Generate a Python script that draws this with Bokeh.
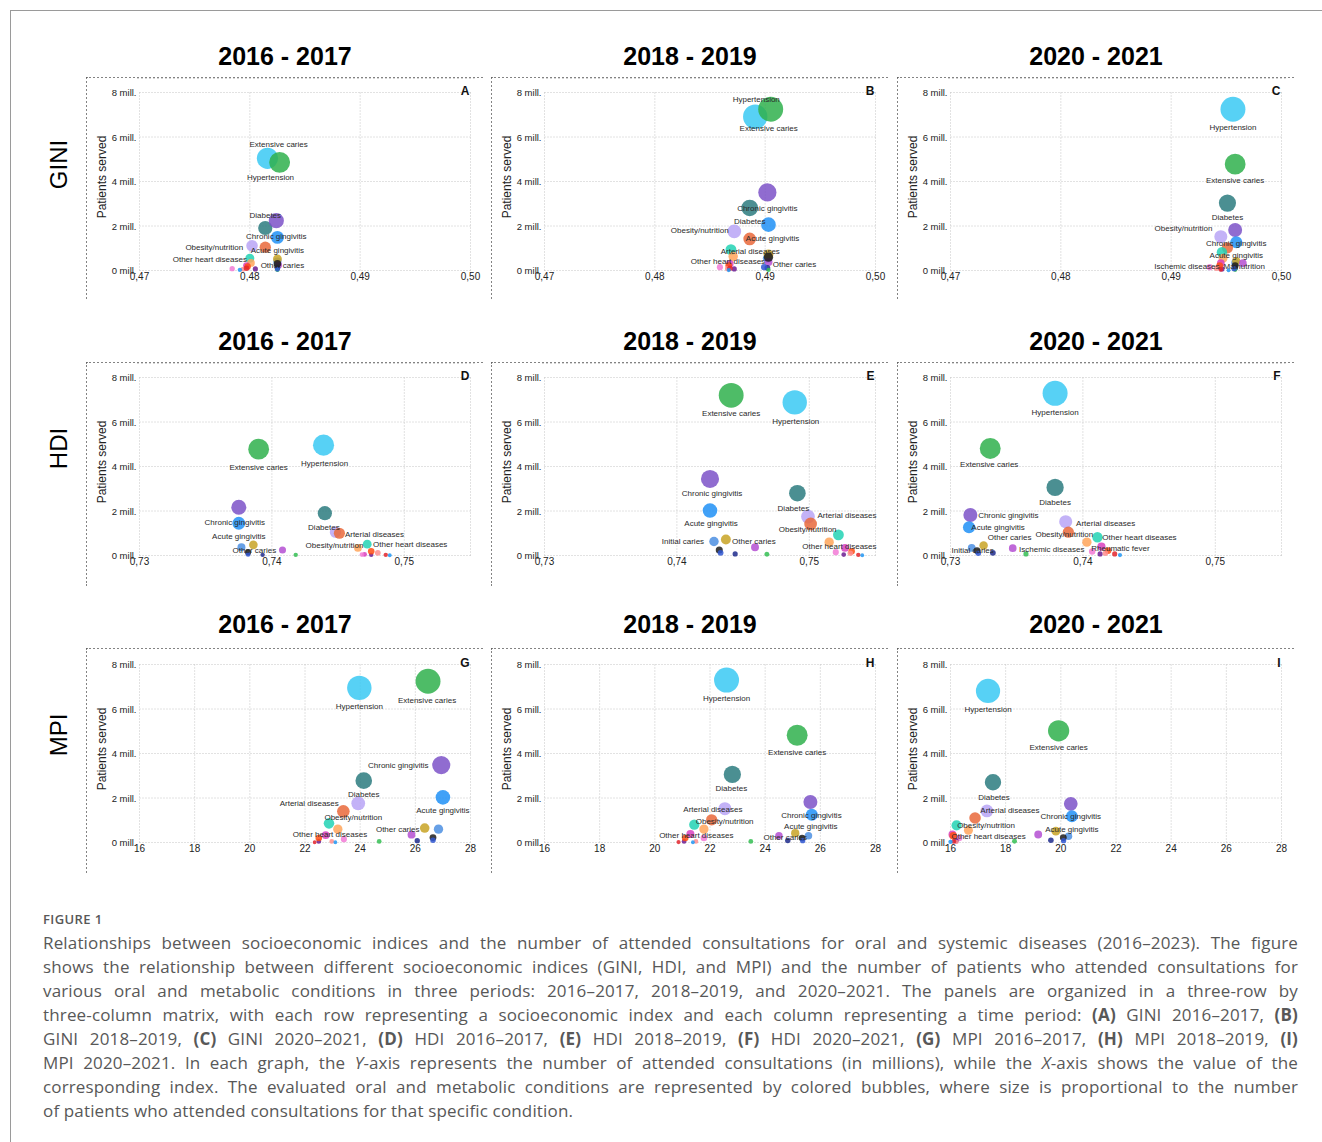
import math
from bokeh.plotting import figure
from bokeh.models import (Range1d, FixedTicker, CustomJSTickFormatter, Label, Div,
                          Spacer, ColumnDataSource)
from bokeh.layouts import row, column
from bokeh.embed import file_html
from bokeh.resources import INLINE
from bokeh.core.properties import value

# ---------------------------------------------------------------- data
CATEGORIES = [
    "Hypertension", "Extensive caries", "Diabetes", "Chronic gingivitis", "Acute gingivitis",
    "Arterial diseases", "Obesity/nutrition", "Other heart diseases", "Unlabelled condition 1",
    "Initial caries", "Other caries", "Ischemic diseases", "Rheumatic fever",
    "Unlabelled condition 2", "Unlabelled condition 3", "Unlabelled condition 4",
    "Unlabelled condition 5", "Unlabelled condition 6", "Unlabelled condition 7",
    "Unlabelled condition 8", "Unlabelled condition 9", "Malnutrition", "Unlabelled condition 10",
]
COLORS = ["#3AC9F3", "#2FB04C", "#2C7B7F", "#7C52C8", "#2090F6", "#B9A4F6", "#E9693B",
          "#22D2B4", "#FFA45B", "#4C8FE2", "#C8A325", "#B44FD2", "#D93FBE", "#F27AD6",
          "#6C1C92", "#FF4D12", "#FF8E8E", "#E3242B", "#1D2A8C", "#34BE52", "#2196F3",
          "#1C1C1C", "#3057D2"]

PERIODS = ["2016 - 2017", "2018 - 2019", "2020 - 2021"]
INDICES = ["GINI", "HDI", "MPI"]
PANEL_LETTERS = ["A", "B", "C", "D", "E", "F", "G", "H", "I"]

GINI_TICKS = [0.47, 0.48, 0.49, 0.50]
HDI_TICKS = [0.73, 0.74, 0.75]
HDI_RANGE = [0.73, 0.755]
MPI_TICKS = [16, 18, 20, 22, 24, 26, 28]
Y_TICKS = [0, 2, 4, 6, 8]          # millions of patients

# x = index value, y = patients served (millions); order follows CATEGORIES
GINI_2016_X = [0.4816, 0.4827, 0.4814, 0.4824, 0.4825, 0.4802, 0.4814, 0.4800, 0.4801, 0.4825, 0.4825, 0.4826, 0.4797, 0.4784, 0.4805, 0.4798, 0.4794, 0.4797, 0.4825, 0.4825, 0.4791, 0.4825, 0.4825]
GINI_2016_Y = [5.04, 4.86, 1.91, 2.24, 1.49, 1.11, 1.05, 0.55, 0.34, 0.40, 0.52, 0.25, 0.22, 0.08, 0.07, 0.18, 0.06, 0.10, 0.12, 0.03, 0.03, 0.30, 0.06]
GINI_2018_X = [0.4891, 0.4905, 0.4886, 0.4902, 0.4903, 0.4872, 0.4886, 0.4869, 0.4871, 0.4902, 0.4903, 0.4903, 0.4868, 0.4859, 0.4872, 0.4867, 0.4866, 0.4868, 0.4902, 0.4903, 0.4867, 0.4903, 0.4899]
GINI_2018_Y = [6.91, 7.25, 2.81, 3.51, 2.06, 1.76, 1.42, 0.94, 0.63, 0.55, 0.72, 0.38, 0.30, 0.15, 0.07, 0.22, 0.08, 0.10, 0.12, 0.03, 0.02, 0.60, 0.15]
GINI_2020_X = [0.4956, 0.4958, 0.4951, 0.4958, 0.4959, 0.4945, 0.4951, 0.4946, 0.4947, 0.4958, 0.4959, 0.4965, 0.4945, 0.4935, 0.4946, 0.4944, 0.4941, 0.4945, 0.4958, 0.4958, 0.4952, 0.4958, 0.4957]
GINI_2020_Y = [7.25, 4.78, 3.03, 1.82, 1.27, 1.52, 1.02, 0.82, 0.55, 0.35, 0.42, 0.33, 0.33, 0.15, 0.07, 0.22, 0.10, 0.05, 0.12, 0.04, 0.01, 0.22, 0.08]

HDI_2016_X = [0.7439, 0.7390, 0.7440, 0.7375, 0.7375, 0.7448, 0.7451, 0.7472, 0.7465, 0.7377, 0.7386, 0.7408, 0.7470, 0.7468, 0.7475, 0.7475, 0.7480, 0.7486, 0.7393, 0.7418, 0.7489, 0.7382, 0.7382]
HDI_2016_Y = [4.96, 4.78, 1.90, 2.17, 1.45, 1.05, 1.00, 0.51, 0.34, 0.37, 0.48, 0.25, 0.05, 0.04, 0.03, 0.19, 0.12, 0.03, 0.03, 0.03, 0.01, 0.15, 0.05]
HDI_2018_X = [0.7489, 0.7441, 0.7491, 0.7425, 0.7425, 0.7499, 0.7501, 0.7522, 0.7515, 0.7428, 0.7437, 0.7459, 0.7527, 0.7520, 0.7526, 0.7532, 0.7531, 0.7537, 0.7444, 0.7468, 0.7540, 0.7432, 0.7433]
HDI_2018_Y = [6.88, 7.20, 2.80, 3.44, 2.02, 1.75, 1.42, 0.93, 0.60, 0.63, 0.72, 0.37, 0.34, 0.15, 0.04, 0.19, 0.10, 0.03, 0.07, 0.06, 0.01, 0.25, 0.12]
HDI_2020_X = [0.7379, 0.7330, 0.7379, 0.7315, 0.7314, 0.7387, 0.7389, 0.7411, 0.7403, 0.7316, 0.7325, 0.7347, 0.7414, 0.7407, 0.7413, 0.7419, 0.7417, 0.7424, 0.7332, 0.7357, 0.7428, 0.7320, 0.7321]
HDI_2020_Y = [7.29, 4.81, 3.06, 1.82, 1.27, 1.52, 1.05, 0.82, 0.60, 0.34, 0.45, 0.33, 0.40, 0.18, 0.07, 0.22, 0.10, 0.07, 0.12, 0.07, 0.02, 0.22, 0.10]

MPI_2016_X = [23.97, 26.46, 24.13, 26.94, 27.00, 23.93, 23.39, 22.87, 23.19, 26.84, 26.34, 25.86, 22.75, 23.41, 22.50, 22.50, 22.97, 22.35, 26.07, 24.69, 23.10, 26.64, 26.64]
MPI_2016_Y = [6.95, 7.25, 2.78, 3.48, 2.03, 1.76, 1.40, 0.86, 0.60, 0.60, 0.65, 0.35, 0.33, 0.15, 0.05, 0.20, 0.05, 0.01, 0.08, 0.05, 0.01, 0.22, 0.10]
MPI_2018_X = [22.60, 25.16, 22.81, 25.64, 25.69, 22.54, 22.06, 21.43, 21.78, 25.57, 25.09, 24.50, 21.29, 21.78, 21.06, 21.10, 21.49, 20.86, 24.82, 23.48, 21.38, 25.34, 25.36]
MPI_2018_Y = [7.30, 4.82, 3.06, 1.82, 1.25, 1.52, 1.02, 0.80, 0.60, 0.30, 0.42, 0.30, 0.38, 0.20, 0.05, 0.20, 0.05, 0.02, 0.09, 0.05, 0.01, 0.20, 0.08]
MPI_2020_X = [17.36, 19.92, 17.54, 20.36, 20.40, 17.32, 16.89, 16.22, 16.65, 20.28, 19.82, 19.18, 16.07, 16.31, 16.20, 16.10, 16.22, 16.12, 19.64, 18.32, 16.00, 20.09, 20.10]
MPI_2020_Y = [6.81, 5.02, 2.71, 1.74, 1.18, 1.42, 1.10, 0.77, 0.55, 0.28, 0.51, 0.36, 0.36, 0.20, 0.08, 0.30, 0.03, 0.05, 0.10, 0.06, 0.03, 0.22, 0.08]

PANEL_DATA = [
    [(GINI_2016_X, GINI_2016_Y), (GINI_2018_X, GINI_2018_Y), (GINI_2020_X, GINI_2020_Y)],
    [(HDI_2016_X, HDI_2016_Y), (HDI_2018_X, HDI_2018_Y), (HDI_2020_X, HDI_2020_Y)],
    [(MPI_2016_X, MPI_2016_Y), (MPI_2018_X, MPI_2018_Y), (MPI_2020_X, MPI_2020_Y)],
]

# --------------------------------------------------------- label layout
# (category labelled, pixel offset right, pixel offset down) relative to its bubble
LABEL_LAYOUT = {
    "A": [("Extensive caries", -1, -18), ("Hypertension", 3, 19), ("Diabetes", 0, -13),
          ("Chronic gingivitis", 0, 16), ("Acute gingivitis", 0, 13), ("Obesity/nutrition", -51, 0),
          ("Other heart diseases", -40, 1), ("Other caries", 5, 7)],
    "B": [("Hypertension", 1, -17), ("Extensive caries", -2, 19), ("Chronic gingivitis", 0, 16),
          ("Diabetes", 0, 14), ("Obesity/nutrition", -50, -8), ("Acute gingivitis", 4, 14),
          ("Arterial diseases", 16, 20), ("Other heart diseases", -3, 12), ("Other caries", 26, 10)],
    "C": [("Hypertension", 0, 18), ("Extensive caries", 0, 16), ("Diabetes", 0, 14),
          ("Obesity/nutrition", -44, -19), ("Chronic gingivitis", 1, 13), ("Acute gingivitis", 0, 13),
          ("Ischemic diseases", -56, 3), ("Malnutrition", 9, 1)],
    "D": [("Extensive caries", 0, 18), ("Hypertension", 1, 18), ("Chronic gingivitis", -4, 15),
          ("Acute gingivitis", 0, 13), ("Other caries", 1, 6), ("Diabetes", -1, 14),
          ("Arterial diseases", 39, 2), ("Obesity/nutrition", -5, 12), ("Other heart diseases", 43, 0)],
    "E": [("Extensive caries", 0, 18), ("Hypertension", 1, 19), ("Chronic gingivitis", 2, 15),
          ("Diabetes", -4, 15), ("Arterial diseases", 39, -1), ("Acute gingivitis", 1, 13),
          ("Obesity/nutrition", -3, 6), ("Initial caries", -31, 0), ("Other caries", 28, 2),
          ("Other heart diseases", 1, 12)],
    "F": [("Hypertension", 0, 19), ("Extensive caries", -1, 16), ("Diabetes", 0, 15),
          ("Chronic gingivitis", 38, 0), ("Arterial diseases", 40, 2), ("Acute gingivitis", 29, 0),
          ("Obesity/nutrition", -4, 2), ("Other heart diseases", 42, 0), ("Other caries", 26, -8),
          ("Initial caries", 1, 3), ("Ischemic diseases", 39, 1), ("Rheumatic fever", 19, 2)],
    "G": [("Hypertension", 0, 19), ("Extensive caries", -1, 19), ("Chronic gingivitis", -43, 0),
          ("Diabetes", 0, 14), ("Arterial diseases", -49, 0), ("Acute gingivitis", 0, 13),
          ("Obesity/nutrition", 10, 6), ("Other caries", -27, 1), ("Other heart diseases", 1, 11)],
    "H": [("Hypertension", 0, 18), ("Extensive caries", 0, 17), ("Diabetes", -1, 14),
          ("Arterial diseases", -12, 1), ("Chronic gingivitis", 1, 13), ("Obesity/nutrition", 13, 2),
          ("Acute gingivitis", -1, 12), ("Other heart diseases", 2, 11), ("Other caries", -10, 4)],
    "I": [("Hypertension", 0, 19), ("Extensive caries", 0, 17), ("Diabetes", 1, 15),
          ("Arterial diseases", 23, 0), ("Chronic gingivitis", 0, 13), ("Obesity/nutrition", 11, 7),
          ("Acute gingivitis", 0, 13), ("Other heart diseases", 32, 11)],
}

# ------------------------------------------------------------ geometry
FONT = "Liberation Sans"
PANEL_W = 397
ROW_H = [222, 224, 225]
GRID_TOP = [15, 15, 16]      # panel top -> 8 mill. line
GRID_LEFT = 53               # panel left -> first x grid line
GRID_W = 331
GRID_H = 178
EXT_X = 4
EXT_B = 5
EXT_T = 14
LABEL_COL_W = 86
ROW_LABEL_X = 58
GAPS = [8, 9]
TITLE_H = [77, 63, 62]
TITLE_Y = [22, 22, 25]       # title centre above panel top
TOTAL_W = LABEL_COL_W + 3 * PANEL_W + sum(GAPS)


def bubble_size(v):
    return 2 * (1.5 + 11.0 * math.sqrt(max(v, 0) / 7.3))


def blank_fig(w, h):
    f = figure(width=w, height=h, x_range=Range1d(0, 1), y_range=Range1d(0, 1),
               x_axis_type=None, y_axis_type=None, output_backend="svg",
               toolbar_location=None, min_border=0, outline_line_color=None,
               background_fill_color="white", border_fill_color="white")
    return f


def make_panel(ri, ci):
    kind = INDICES[ri]
    letter = PANEL_LETTERS[ri * 3 + ci]
    xs, ys = PANEL_DATA[ri][ci]
    h = ROW_H[ri]
    gtop = GRID_TOP[ri]
    if kind == "GINI":
        lo, hi = GINI_TICKS[0], GINI_TICKS[-1]
        axis_ticks, grid_ticks = GINI_TICKS, GINI_TICKS
        code = "return tick.toFixed(2).replace('.', ',')"
    elif kind == "HDI":
        lo, hi = HDI_RANGE
        axis_ticks, grid_ticks = HDI_TICKS, HDI_TICKS + [HDI_RANGE[1]]
        code = "return tick.toFixed(2).replace('.', ',')"
    else:
        lo, hi = MPI_TICKS[0], MPI_TICKS[-1]
        axis_ticks, grid_ticks = MPI_TICKS, MPI_TICKS
        code = "return tick.toFixed(0)"
    px = (hi - lo) / GRID_W
    ypx = (Y_TICKS[-1] - Y_TICKS[0]) / GRID_H
    frame_w = GRID_W + 2 * EXT_X
    frame_h = GRID_H + EXT_B + EXT_T
    left = GRID_LEFT - EXT_X
    top = gtop - EXT_T
    p = figure(width=PANEL_W, height=h,
               x_range=Range1d(lo - EXT_X * px, hi + EXT_X * px),
               y_range=Range1d(Y_TICKS[0] - EXT_B * ypx, Y_TICKS[-1] + EXT_T * ypx),
               output_backend="svg", toolbar_location=None,
               min_border_left=left, min_border_right=PANEL_W - left - frame_w,
               min_border_top=top, min_border_bottom=h - top - frame_h,
               outline_line_color=None, background_fill_color="white",
               border_fill_color="white",
               styles={"outline": "2px dotted #5a5a5a", "outline-offset": "-2px"})
    p.xgrid.visible = False
    p.ygrid.visible = False

    # dotted grid limited to the data window
    y0, y1 = Y_TICKS[0], Y_TICKS[-1]
    p.segment(x0=grid_ticks, x1=grid_ticks, y0=[y0] * len(grid_ticks), y1=[y1] * len(grid_ticks),
              line_color="#c4c4c4", line_dash="1 2", line_width=1)
    p.segment(x0=[lo] * len(Y_TICKS), x1=[hi] * len(Y_TICKS), y0=Y_TICKS, y1=Y_TICKS,
              line_color="#c4c4c4", line_dash="1 2", line_width=1)

    p.xaxis.ticker = FixedTicker(ticks=axis_ticks)
    p.xaxis.formatter = CustomJSTickFormatter(code=code)
    p.yaxis.ticker = FixedTicker(ticks=Y_TICKS)
    p.yaxis.formatter = CustomJSTickFormatter(code="return tick.toFixed(0) + ' mill.'")
    for ax in (p.xaxis, p.yaxis):
        ax.axis_line_color = None
        ax.major_tick_line_color = None
        ax.minor_tick_line_color = None
        ax.major_tick_out = 0
        ax.major_tick_in = 0
        ax.major_label_text_color = "#222222"
        ax.major_label_text_font = FONT
    p.xaxis.major_label_text_font_size = "10px"
    p.xaxis.major_label_standoff = -4
    p.yaxis.major_label_text_font_size = "9.5px"
    p.yaxis.major_label_standoff = -1
    p.yaxis.axis_label = "Patients served"
    p.yaxis.axis_label_text_font_size = "12px"
    p.yaxis.axis_label_text_font_style = "normal"
    p.yaxis.axis_label_text_color = "#222222"
    p.yaxis.axis_label_text_font = FONT
    p.yaxis.axis_label_standoff = 0

    src = ColumnDataSource(dict(x=xs, y=ys, size=[bubble_size(v) for v in ys],
                                color=COLORS, name=CATEGORIES))
    p.scatter(x="x", y="y", size="size", fill_color="color", fill_alpha=0.85,
              line_color=None, source=src)

    lab = LABEL_LAYOUT[letter]
    idx = [CATEGORIES.index(n) for n, _, _ in lab]
    lsrc = ColumnDataSource(dict(x=[xs[i] for i in idx], y=[ys[i] for i in idx],
                                 text=[n for n, _, _ in lab],
                                 dx=[d for _, d, _ in lab], dy=[d for _, _, d in lab]))
    p.text(x="x", y="y", text="text", x_offset="dx", y_offset="dy", source=lsrc,
           text_align="center", text_baseline="middle", text_font_size="8px",
           text_color="#2a2a2a", text_font=value(FONT))

    p.add_layout(Label(x=frame_w - EXT_X - 1, y=EXT_B + GRID_H + 2,
                       x_units="screen", y_units="screen",
                       text=letter, text_align="right", text_baseline="alphabetic",
                       text_font_size="12px", text_font_style="bold",
                       text_color="#111111", text_font=FONT))
    return p


def title_strip(ri):
    f = blank_fig(TOTAL_W, TITLE_H[ri])
    for ci, per in enumerate(PERIODS):
        cx = LABEL_COL_W + ci * PANEL_W + sum(GAPS[:ci]) + PANEL_W / 2
        f.add_layout(Label(x=cx, y=TITLE_Y[ri], x_units="screen", y_units="screen",
                           text=per, text_align="center", text_baseline="middle",
                           text_font_size="25px", text_font_style="bold",
                           text_color="#000000", text_font=FONT))
    return f


def panel_row(ri):
    h = ROW_H[ri]
    lab = blank_fig(LABEL_COL_W, h)
    lab.add_layout(Label(x=ROW_LABEL_X, y=h / 2, x_units="screen", y_units="screen",
                         text=INDICES[ri], angle=math.pi / 2, text_align="center",
                         text_baseline="middle", text_font_size="24px",
                         text_color="#000000", text_font=FONT))
    kids = [lab]
    for ci in range(3):
        kids.append(make_panel(ri, ci))
        if ci < 2:
            kids.append(Spacer(width=GAPS[ci], height=h, margin=0))
    return row(*kids)


CAPTION_LINES = [
    "Relationships between socioeconomic indices and the number of attended consultations for oral and systemic diseases (2016–2023). The figure",
    "shows the relationship between different socioeconomic indices (GINI, HDI, and MPI) and the number of patients who attended consultations for",
    "various oral and metabolic conditions in three periods: 2016–2017, 2018–2019, and 2020–2021. The panels are organized in a three-row by",
    "three-column matrix, with each row representing a socioeconomic index and each column representing a time period: <b>(A)</b> GINI 2016–2017, <b>(B)</b>",
    "GINI 2018–2019, <b>(C)</b> GINI 2020–2021, <b>(D)</b> HDI 2016–2017, <b>(E)</b> HDI 2018–2019, <b>(F)</b> HDI 2020–2021, <b>(G)</b> MPI 2016–2017, <b>(H)</b> MPI 2018–2019, <b>(I)</b>",
    "MPI 2020–2021. In each graph, the <i>Y</i>-axis represents the number of attended consultations (in millions), while the <i>X</i>-axis shows the value of the",
    "corresponding index. The evaluated oral and metabolic conditions are represented by colored bubbles, where size is proportional to the number",
    "of patients who attended consultations for that specific condition.",
]

CAP_W = 1298
cap_html = ('<div style="position:fixed;left:10px;top:10px;width:calc(100vw - 10px);'
            'height:calc(100vh - 10px);border-top:1px solid #9a9a9a;border-left:1px solid #9a9a9a;'
            'pointer-events:none;box-sizing:border-box"></div>'
            f'<div style="box-sizing:border-box;padding-top:36px;padding-left:43px;'
            f'font-family:\'Open Sans\';color:#585858;width:{CAP_W}px">'
            '<div style="font-size:13px;line-height:20px;font-weight:600;letter-spacing:0.4px;'
            'margin-bottom:2px">FIGURE 1</div>')
for i, ln in enumerate(CAPTION_LINES):
    last = i == len(CAPTION_LINES) - 1
    align = "text-align:left" if last else "text-align:justify;text-align-last:justify"
    cap_html += (f'<div style="font-size:17px;line-height:24px;letter-spacing:0.15px;'
                 f'white-space:nowrap;{align}">{ln}</div>')
cap_html += '</div>'
caption = Div(text=cap_html, width=CAP_W, height=258, margin=0)

layout = column(
    title_strip(0), panel_row(0),
    title_strip(1), panel_row(1),
    title_strip(2), panel_row(2),
    caption,
)

open("out.html", "w").write(file_html(layout, INLINE, title="Figure 1"))
